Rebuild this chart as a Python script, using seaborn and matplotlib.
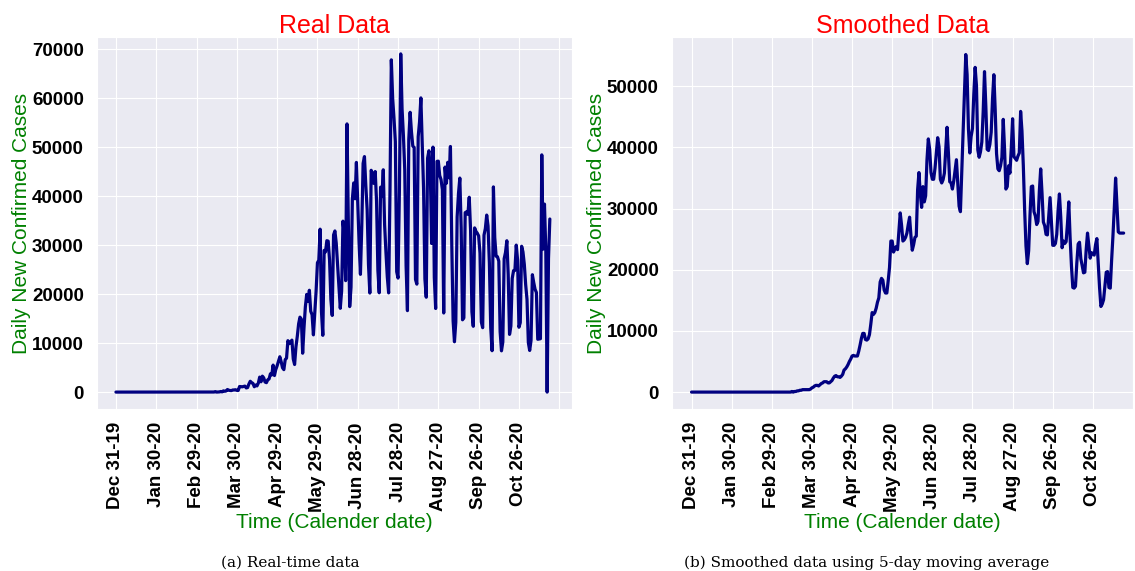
import numpy as np
import matplotlib
matplotlib.use("Agg")
import matplotlib.pyplot as plt
import seaborn as sns

# Daily new confirmed cases, one value per day starting Dec 31, 2019
raw_cases = [
    0, 0, 0, 0, 0, 0, 0, 0, 0, 0, 0, 0, 0, 0, 0, 0, 0, 0, 0, 0,
    0, 0, 0, 0, 0, 0, 0, 0, 0, 0, 0, 0, 0, 0, 0, 0, 0, 0, 0, 0,
    0, 0, 0, 0, 0, 0, 0, 0, 0, 0, 0, 0, 0, 0, 0, 0, 0, 0,
    1, 0, 0, 1, 0, 0, 0, 1, 1, 10, 0, 7, 5, 6, 7, 14, 99, 0, 11, 38,
    121, 51, 249, 172, 228, 525, 378, 323, 307, 431, 432, 487, 352, 323,
    1138, 1119, 1074, 1146, 1222, 852, 926, 1661, 2210, 1930,
    1781, 1089, 1442, 1261, 1832, 3058, 2105, 3257, 2917, 2055,
    1927, 2498, 2678, 3735, 3503, 5514, 3379, 4613, 5385, 6276,
    7218, 6209, 4970, 4588, 6633, 6935, 10503, 9888, 10222, 10611,
    6760, 5632, 9258, 11385, 13944, 15305, 14919, 7938, 13140, 17408,
    19951, 18508, 20803, 16508, 15813, 11687, 16324, 20599, 26417, 26928,
    33274,
    16409, 11598, 28936, 28633, 30925, 30830, 27075, 18912, 15654, 32091,
    32913, 30412, 25982, 21704, 17110, 20647, 34918, 32188, 22765, 54771,
    34666, 17459, 21432, 39436, 42725, 39483, 46907, 38693, 30476, 24052,
    33846, 46712, 48105, 42223, 37279, 26051, 20229, 45305, 44571, 42619,
    45048, 39023, 24831, 20286, 41857, 39924, 45403, 34177, 28532, 23529,
    20257, 41008, 67860, 59961, 55891, 51147, 24578, 23284, 40816, 69074,
    57837,
    52383, 45392, 25800, 16641, 51603, 57152, 53139, 50230, 49970, 23010,
    22048, 52160, 55155, 60091, 50644, 41576, 23101, 19373, 47784, 49298,
    45323, 30355, 50032, 23421, 17078, 47134, 47161, 44235, 43412, 41350,
    16158,
    45961, 42659, 46934, 43773, 50163, 30168, 14521, 10273, 14279, 35816,
    40557, 43718, 33523, 14768, 15155, 36653, 36820, 36303, 39797, 33057,
    16389, 13439, 33536, 32817, 32445, 31911, 28378, 14318, 13155, 32058,
    33413, 36157, 33922, 26310, 13140, 8456, 41906, 31553, 27750, 27651,
    26749, 12342, 8426, 10220, 27235, 28523, 30914, 24062, 11783, 13493,
    23227, 24818, 24858, 30026, 26979, 13243, 14194, 29787, 28629, 26106,
    21982,
    18947, 10100, 8501, 10554, 23976, 22380, 21000, 20340, 10790, 10850,
    10900, 48450, 29200, 38400, 29000, 0, 27250, 35350,
]

# 5-day moving average curve (same days)
smoothed_cases = [
    0, 0, 0, 0, 0, 0, 0, 0, 0, 0, 0, 0, 0, 0, 0, 0, 0, 0, 0, 0,
    0, 0, 0, 0, 0, 0, 0, 0, 0, 0, 0, 0, 0, 0, 0, 0, 0, 0, 0, 0,
    0, 0, 0, 0, 0, 0, 0, 0, 0, 0, 0, 0, 0, 0, 0, 0, 0, 0, 0, 0,
    0, 0, 0, 0, 0, 0, 0, 0, 0, 0,
    0, 0, 0, 0, 0, 100, 0, 100, 100, 200,
    200, 300, 300, 400, 400, 400, 400, 400, 400, 500,
    700, 800, 1000, 1100, 1100, 1000, 1200, 1400, 1500, 1700,
    1700, 1700, 1500, 1500, 1700, 1900, 2300, 2600, 2700, 2500,
    2500, 2400, 2600, 2900, 3600, 3800, 4100, 4500, 5000, 5400,
    5900, 6000, 5900, 5900, 5900, 6700, 7700, 8800, 9600, 9600,
    8600, 8500, 8700, 9400, 11100, 13000, 12700, 13000, 13700, 14700,
    15400, 18000, 18600, 18300, 16700, 16200, 16200, 18200, 20400, 24700,
    24700, 22900, 23400, 23800, 23300, 26200, 29300, 27300, 24700, 24900,
    25300, 26000, 27400, 28600, 25600, 23200, 24100, 25300, 25500, 33100,
    35900, 32400, 30200, 33600, 31100, 32100, 38000, 41400, 39700, 35900,
    34800, 34800, 36600, 39000, 41600, 40100, 34800, 34200, 34700, 35800,
    39600, 43300, 39200, 34400, 34200, 33200, 34500, 36300, 38000, 34300,
    30400, 29500, 36200, 42500, 49000, 55200, 51900, 43000, 39100, 41800,
    43100, 48700, 53100, 50100, 39600, 38400, 39300, 40900, 45800, 52400,
    46700, 39700, 39500, 40500, 42500, 48000, 51900, 46100, 39000, 36500,
    36200, 37000, 38400, 44600, 39700, 33200, 33600, 37000, 35800, 39800,
    44700, 38500, 38200, 37900, 38600, 39100, 45900, 42700, 37100, 29800,
    23900, 21000, 23100, 28900, 33600, 33700, 29500, 28800, 27400, 27900,
    32900, 36500, 32500, 27800, 27200, 25800, 25700, 28800, 31800, 28000,
    24000, 24000, 24300, 25800, 29700, 32400, 28600, 23600, 24700, 24300,
    24600, 27500, 31100, 25200, 20600, 17100, 17000, 17300, 21100, 24200,
    24500, 21800, 20700, 19500, 19600, 23300, 26000, 24000, 21900, 22800,
    22600, 22400, 24100, 25100, 21200, 17100, 14000, 14400, 15100, 17300,
    19600, 19700, 17100, 17000, 21500, 25500, 30000, 35000, 30500, 26200,
    26000, 26000, 26000, 26000,
]

tick_days = [0, 30, 60, 90, 120, 150, 180, 210, 240, 270, 300, 330]
tick_labels = ["Dec 31-19", "Jan 30-20", "Feb 29-20", "Mar 30-20", "Apr 29-20",
               "May 29-20", "Jun 28-20", "Jul 28-20", "Aug 27-20", "Sep 26-20",
               "Oct 26-20", ""]
yticks_raw = [0, 10000, 20000, 30000, 40000, 50000, 60000, 70000]
yticks_smooth = [0, 10000, 20000, 30000, 40000, 50000]

sns.set_style("darkgrid")
plt.rcParams['font.family'] = ['Liberation Sans', 'DejaVu Sans']

days = np.arange(len(raw_cases))

W, H = 1135, 571
fig = plt.figure(figsize=(W / 100, H / 100), dpi=100)


def px_axes(x0, y0, x1, y1):
    return fig.add_axes([x0 / W, 1 - y1 / H, (x1 - x0) / W, (y1 - y0) / H])


ax1 = px_axes(97, 37, 572, 409)
ax2 = px_axes(672, 37, 1133, 409)

panels = [
    (ax1, raw_cases, "Real Data", (-14.1, 339.5), (-3454, 72528), yticks_raw),
    (ax2, smoothed_cases, "Smoothed Data", (-14.6, 327.7), (-2765, 58065), yticks_smooth),
]

for ax, vals, title, xlim, ylim, yticks in panels:
    sns.lineplot(x=days, y=vals, ax=ax, color='#000080', linewidth=2.3)
    ax.set_xlim(*xlim)
    ax.set_ylim(*ylim)
    ax.set_xticks(tick_days)
    ax.set_xticklabels(tick_labels, rotation=90, fontweight='bold', fontsize=13.5)
    ax.set_yticks(yticks)
    ax.set_yticklabels([str(v) for v in yticks], fontweight='bold', fontsize=13.5)
    ax.tick_params(axis='both', pad=6, labelcolor='black')
    ax.set_title(title, color='red', fontsize=18, pad=3)
    ax.set_xlabel("Time (Calender date)", color='green', fontsize=15, labelpad=1)
    ax.set_ylabel("Daily New Confirmed Cases", color='green', fontsize=15, labelpad=1)

fig.text(290 / W, 1 - 563 / H, "(a) Real-time data", family='DejaVu Serif',
         fontsize=11, ha='center', va='center', color='black')
fig.text(867 / W, 1 - 563 / H, "(b) Smoothed data using 5-day moving average",
         family='DejaVu Serif', fontsize=11, ha='center', va='center', color='black')

fig.savefig("out.png", dpi=100)
